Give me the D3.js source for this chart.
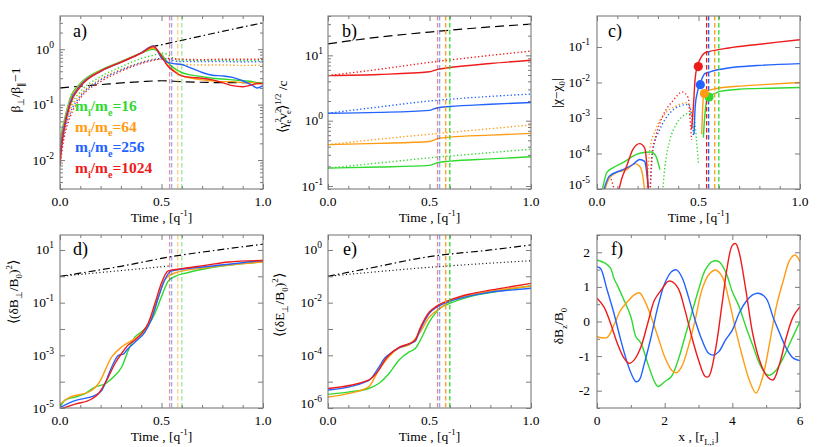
<!DOCTYPE html>
<html><head><meta charset="utf-8">
<script src="https://cdn.jsdelivr.net/npm/d3@7"></script>
<style>
body{margin:0;background:#fff}
svg{display:block}
</style>
</head><body>
<svg id="chart" width="830" height="447" font-family="Liberation Serif"></svg>
<script>
// ---------------- DATA ----------------
const massRatios = ["16", "64", "256", "1024"];
const seriesColors = ["#2fd92f", "#ff9c12", "#2262ff", "#ee1b1b"];
const saturationTimes = [0.60, 0.58, 0.55, 0.54];

// Panel a: beta_perp/beta_par - 1
const aTimeSolid = [0,0.01,0.02,0.05,0.1,0.2,0.3,0.4,0.46,0.5,0.53,0.56,0.6,0.65,0.7,0.75,0.8,0.85,0.9,0.95,0.97,1.0];
const aSolid16   = [0.02,0.035,0.05,0.13,0.24,0.42,0.6,0.85,1.0,0.8,0.58,0.46,0.38,0.34,0.32,0.3,0.29,0.28,0.27,0.26,0.25,0.25];
const aSolid64   = [0.015,0.03,0.045,0.12,0.23,0.41,0.59,0.86,1.05,0.75,0.52,0.42,0.33,0.3,0.28,0.27,0.26,0.26,0.25,0.25,0.24,0.24];
const aSolid256  = [0.012,0.025,0.04,0.11,0.22,0.4,0.58,0.86,1.15,0.7,0.58,0.55,0.53,0.45,0.38,0.34,0.33,0.31,0.27,0.22,0.2,0.22];
const aSolid1024 = [0.008,0.02,0.035,0.1,0.21,0.4,0.58,0.85,1.12,0.75,0.5,0.4,0.33,0.31,0.3,0.28,0.25,0.22,0.21,0.23,0.24,0.24];
const aTimeDotted = [0,0.02,0.05,0.1,0.2,0.3,0.4,0.46,0.5,0.53,0.56,0.6,0.7,0.8,0.9,1.0];
const aDotted16   = [0.02,0.04,0.09,0.17,0.32,0.48,0.68,0.78,0.85,0.8,0.68,0.64,0.63,0.63,0.62,0.64];
const aDotted64   = [0.015,0.035,0.08,0.15,0.29,0.43,0.58,0.66,0.66,0.6,0.55,0.53,0.52,0.52,0.51,0.52];
const aDotted256  = [0.012,0.03,0.07,0.14,0.28,0.42,0.57,0.65,0.68,0.66,0.62,0.6,0.6,0.6,0.59,0.6];
const aDotted1024 = [0.008,0.025,0.06,0.13,0.26,0.4,0.55,0.63,0.67,0.68,0.67,0.66,0.65,0.66,0.66,0.66];
const aDashedTime = [0,0.2,0.4,0.5,0.6,0.8,1.0];
const aDashed     = [0.2,0.23,0.26,0.27,0.26,0.25,0.25];
const aDashDotTime = [0.45,0.6,0.8,1.0];
const aDashDot     = [1.1,1.45,2.1,3.0];

// Panel b: <gamma^2 v^2>^1/2 / c
const bTimeSolid = [0,0.25,0.5,0.54,0.6,0.8,1.0];
const bSolid16   = [0.188,0.195,0.207,0.228,0.24,0.26,0.28];
const bSolid64   = [0.43,0.45,0.48,0.53,0.56,0.6,0.64];
const bSolid256  = [1.3,1.34,1.44,1.58,1.65,1.78,1.9];
const bSolid1024 = [4.9,5.1,5.6,6.1,6.5,7.5,8.4];
const bTimeDotted = [0,0.25,0.5,0.75,1.0];
const bDotted16   = [0.188,0.225,0.27,0.315,0.365];
const bDotted64   = [0.43,0.52,0.62,0.73,0.86];
const bDotted256  = [1.3,1.62,2.0,2.3,2.55];
const bDotted1024 = [4.9,6.1,7.8,9.6,11.6];
const bDashed     = [15,19,22.7,26.5,30];

// Panel c: |chi - chi0|   ([time, value] pairs)
const cEarly16   = [[0.023,8e-6],[0.03,1.2e-5],[0.048,2.9e-5],[0.08,4e-5],[0.128,5.5e-5],[0.194,9.4e-5],[0.24,1.08e-4],[0.268,1.1e-4],[0.29,8.4e-5],[0.31,3.5e-5]];
const cEarly64   = [[0.035,8e-6],[0.06,2e-5],[0.097,2.9e-5],[0.146,3.5e-5],[0.187,5.2e-5],[0.21,4.4e-5],[0.228,1.9e-5],[0.235,8e-6]];
const cEarly256  = [[0.03,8e-6],[0.045,1.5e-5],[0.06,2.3e-5],[0.128,3.5e-5],[0.177,4.9e-5],[0.21,6.8e-5],[0.235,6e-5],[0.243,3.5e-5],[0.253,1e-5],[0.256,7e-6]];
const cEarly1024 = [[0.105,8e-6],[0.12,1.8e-5],[0.146,4.4e-5],[0.177,1.3e-4],[0.21,1.9e-4],[0.235,1.45e-4],[0.246,4.4e-5],[0.253,1e-5],[0.256,7e-6]];
const cNeg16   = [[0.322,7e-6],[0.335,4.4e-5],[0.36,2.5e-4],[0.39,6.6e-4],[0.42,1.1e-3],[0.455,1.35e-3],[0.48,9e-4],[0.49,2.4e-4],[0.5,4.9e-5]];
const cNeg64   = [[0.245,7e-6],[0.26,1.3e-4],[0.29,4.8e-4],[0.34,1.4e-3],[0.39,2.2e-3],[0.44,2.7e-3],[0.455,2.2e-3],[0.466,1.1e-3]];
const cNeg256  = [[0.26,7e-6],[0.276,1.3e-4],[0.31,4.8e-4],[0.36,1.4e-3],[0.41,2.2e-3],[0.45,2.4e-3],[0.466,1.26e-3],[0.475,3.1e-4]];
const cNeg1024 = [[0.262,7e-6],[0.27,8.4e-5],[0.29,3.1e-4],[0.323,1.1e-3],[0.373,3e-3],[0.42,5.4e-3],[0.45,3.7e-3],[0.455,1.7e-3],[0.466,2.4e-4]];
const cNegEarly1024 = [[0.07,1.9e-5],[0.08,1.2e-5],[0.09,7e-6]];
const cLate16   = [[0.524,2.8e-4],[0.53,1e-3],[0.538,2.7e-3],[0.546,4.1e-3],[0.573,4.7e-3],[0.607,5.6e-3],[0.705,6.5e-3],[0.85,6.9e-3],[1.0,7.2e-3]];
const cLate64   = [[0.516,3.5e-4],[0.521,2.2e-3],[0.527,5.2e-3],[0.54,5.7e-3],[0.573,6.5e-3],[0.688,7.8e-3],[0.82,8.7e-3],[1.0,0.01]];
const cLate256  = [[0.478,3.5e-4],[0.484,2.2e-3],[0.494,5.2e-3],[0.507,9e-3],[0.531,0.0177],[0.557,0.02],[0.655,0.026],[0.787,0.03],[1.0,0.034]];
const cLate1024 = [[0.466,4.8e-4],[0.475,2.2e-3],[0.483,0.012],[0.494,0.029],[0.507,0.044],[0.531,0.068],[0.555,0.075],[0.65,0.094],[0.78,0.116],[0.88,0.135],[1.0,0.16]];
const cMarkerTime  = [0.552,0.529,0.509,0.499];
const cMarkerValue = [0.0039,0.0049,0.0087,0.028];

// Panel d: <(dB_perp/B0)^2>
const dTime16 = [0,0.025,0.074,0.123,0.172,0.222,0.263,0.304,0.337,0.37,0.402,0.435,0.468,0.5,0.533,0.567,0.632,0.796,1.0];
const dVal16  = [1.05e-5,2e-5,2.6e-5,3.5e-5,6.2e-5,8.3e-5,1.5e-4,3.6e-4,1.6e-3,5e-3,7.8e-3,0.014,0.04,0.17,0.66,1.0,1.4,2.45,3.5];
const dTime64 = [0,0.033,0.156,0.189,0.255,0.304,0.37,0.419,0.452,0.484,0.517,0.567,0.714,1.0];
const dVal64  = [1.4e-5,2.2e-5,4.6e-5,8.3e-5,8.7e-4,2.1e-3,4.4e-3,9.1e-3,0.03,0.17,0.76,1.35,2.1,3.5];
const dTime256 = [0,0.074,0.172,0.205,0.255,0.288,0.312,0.329,0.37,0.419,0.452,0.484,0.517,0.55,0.714,1.0];
const dVal256  = [1.05e-5,1.9e-5,3e-5,4.6e-5,3.6e-4,1e-3,1.1e-3,1.6e-3,3.2e-3,7.8e-3,0.025,0.15,0.76,1.6,2.3,4.0];
const dTime1024 = [0,0.074,0.156,0.189,0.238,0.271,0.304,0.337,0.37,0.402,0.435,0.468,0.5,0.533,0.6,0.714,0.83,1.0];
const dVal1024  = [9.1e-6,1.4e-5,2.2e-5,3.5e-5,1.5e-4,4.9e-4,1.2e-3,2.5e-3,3.8e-3,6.8e-3,0.017,0.095,0.56,1.6,1.95,2.6,3.5,4.0];
const dDashDotTime = [0,0.3,0.55,0.8,1.0];
const dDashDot     = [1.0,2.4,5.6,10.5,16.6];
const dDottedTime  = [0,0.55];
const dDotted      = [1.0,2.5];

// Panel e: <(dE_perp/B0)^2>
const eTime16 = [0,0.1,0.2,0.25,0.3,0.35,0.4,0.43,0.45,0.5,0.55,0.6,0.7,0.8,1.0];
const eVal16  = [3.3e-6,4e-6,5.5e-6,8.5e-6,2e-5,6.6e-5,1.35e-4,1.8e-4,3.2e-4,1.9e-3,6e-3,9.3e-3,0.017,0.024,0.044];
const eTime64 = [0,0.1,0.2,0.25,0.3,0.35,0.4,0.45,0.5,0.55,0.6,0.8,1.0];
const eVal64  = [2.6e-6,3.5e-6,6.3e-6,2.75e-5,8.9e-5,1.9e-4,2.5e-4,6.8e-4,2.9e-3,6e-3,0.0112,0.027,0.042];
const eTime256 = [0,0.2,0.25,0.28,0.3,0.35,0.4,0.43,0.45,0.5,0.53,0.6,0.7,0.8,0.9,1.0];
const eVal256  = [4.8e-6,1.1e-5,3.5e-5,7.9e-5,1.07e-4,1.9e-4,2.7e-4,3.5e-4,7.9e-4,4e-3,6.3e-3,0.0112,0.018,0.025,0.03,0.035];
const eTime1024 = [0,0.2,0.25,0.28,0.3,0.35,0.4,0.43,0.45,0.5,0.53,0.6,0.7,0.8,0.9,1.0];
const eVal1024  = [5.5e-6,1.15e-5,2.75e-5,6.6e-5,1.0e-4,2.0e-4,2.8e-4,3.8e-4,9.1e-4,4.5e-3,6.9e-3,0.0126,0.0214,0.03,0.04,0.054];
const eDashDotTime = [0,0.2,0.5,0.8,1.0];
const eDashDot     = [0.1,0.2,0.56,1.0,1.55];
const eDottedTime  = [0,0.5,1.0];
const eDotted      = [0.1,0.22,0.39];

// Panel f: dBz/B0 vs x  ([x, value] pairs)
const f16 = [[0,1.78],[0.25,1.68],[0.4,1.54],[0.5,1.25],[0.6,1.05],[0.75,0.72],[1.0,0.14],[1.15,-0.44],[1.3,-0.63],[1.5,-1.21],[1.7,-1.74],[1.8,-1.88],[2.0,-1.74],[2.2,-1.59],[2.4,-1.11],[2.6,-0.44],[2.8,0.24],[3.0,0.91],[3.2,1.49],[3.4,1.73],[3.6,1.73],[3.8,1.44],[4.0,0.86],[4.2,0.43],[4.4,-0.15],[4.6,-0.68],[4.8,-1.21],[5.0,-1.52],[5.1,-1.55],[5.3,-1.4],[5.5,-1.06],[5.7,-0.63],[6.0,0.0]];
const f64 = [[0,-0.44],[0.3,-0.46],[0.5,-0.1],[0.7,0.33],[0.9,0.57],[1.1,0.77],[1.25,0.83],[1.4,0.62],[1.6,0.14],[1.8,-0.44],[2.0,-1.02],[2.2,-1.4],[2.35,-1.48],[2.5,-1.31],[2.7,-0.73],[2.9,0.04],[3.1,0.91],[3.3,1.35],[3.5,1.49],[3.7,1.3],[3.9,0.62],[4.1,-0.25],[4.3,-1.02],[4.5,-1.69],[4.7,-2.07],[4.9,-1.59],[5.1,-0.63],[5.3,0.43],[5.5,1.16],[5.7,1.78],[5.85,1.92],[6.0,1.73]];
const f256 = [[0,1.58],[0.1,1.54],[0.3,0.91],[0.5,0.24],[0.7,-0.53],[0.9,-1.21],[1.05,-1.59],[1.15,-1.74],[1.25,-1.69],[1.4,-1.21],[1.6,-0.44],[1.8,0.43],[2.0,1.1],[2.2,1.44],[2.35,1.49],[2.5,1.3],[2.7,0.72],[2.9,0.04],[3.1,-0.53],[3.3,-0.92],[3.45,-0.97],[3.6,-0.87],[3.8,-0.53],[4.0,-0.25],[4.2,0.24],[4.4,0.57],[4.6,0.77],[4.8,0.81],[5.0,0.67],[5.2,0.14],[5.4,-0.34],[5.6,-0.78],[5.8,-1.06],[6.0,-1.13]];
const f1024 = [[0,0.67],[0.2,0.43],[0.4,-0.05],[0.6,-0.63],[0.8,-1.06],[0.95,-1.21],[1.1,-1.11],[1.3,-0.73],[1.5,-0.05],[1.7,0.62],[1.9,0.91],[2.1,1.16],[2.2,1.16],[2.4,0.96],[2.6,0.33],[2.8,-0.44],[3.0,-1.11],[3.2,-1.59],[3.3,-1.59],[3.5,-0.82],[3.7,0.53],[3.85,1.58],[4.0,2.2],[4.1,2.25],[4.2,2.0],[4.4,0.91],[4.6,-0.34],[4.8,-1.11],[5.0,-1.55],[5.2,-1.69],[5.4,-1.21],[5.6,-0.44],[5.8,0.14],[6.0,0.43]];

// Tick values
const timeMajor = [0, 0.5, 1.0];
const timeMinor = [0.1,0.2,0.3,0.4,0.6,0.7,0.8,0.9];
const fxMajor = [0,2,4,6];
const fxMinor = [1,3,5];
const fyMajor = [-2,-1,0,1,2];
const fyMinor = [-2.5,-1.5,-0.5,0.5,1.5,2.5];

// ---------------- DRAWING ----------------
const svg = d3.select("#chart");
const FRAME = "#7b7b7b";
let clipCount = 0;
const zip = (t, v) => t.map((d, i) => [d, v[i]]);
const logMinors = (lo, hi) => {
  const out = [];
  for (let e = Math.floor(Math.log10(lo)); e <= Math.ceil(Math.log10(hi)); e++)
    for (let k = 2; k <= 9; k++) { const v = k * Math.pow(10, e); if (v >= lo && v <= hi) out.push(v); }
  return out;
};
const decades = (e0, e1) => d3.range(e0, e1 + 1).map(e => Math.pow(10, e));

function txt(parent) {
  return parent.append("text").attr("font-family", "Liberation Serif").attr("fill", "#000");
}

function rich(sel, segs, fs) {
  let cur = 0;
  segs.forEach(s => {
    const target = s.s === "sup" ? -fs * 0.42 : s.s === "sub" ? fs * 0.3 : 0;
    const ts = sel.append("tspan").attr("dy", (target - cur).toFixed(2)).text(s.t);
    if (s.s) ts.attr("font-size", (fs * 0.66).toFixed(1));
    if (s.dx) ts.attr("dx", s.dx);
    cur = target;
  });
}

function makePanel(box, xScale, yScale) {
  const [x0, y0, x1, y1] = box;
  const w = x1 - x0, h = y1 - y0;
  const g = svg.append("g").attr("transform", `translate(${x0},${y0})`);
  const x = xScale.range([0, w]);
  const y = yScale.range([h, 0]);
  const id = "clip" + (clipCount++);
  g.append("clipPath").attr("id", id).append("rect").attr("width", w).attr("height", h);
  const plot = g.append("g").attr("clip-path", `url(#${id})`);
  return { g, plot, x, y, w, h };
}

function tickAxis(g, axisFn, scale, vals, size, transform) {
  const a = axisFn(scale).tickValues(vals).tickSizeInner(-size).tickSizeOuter(0).tickFormat("");
  const ag = g.append("g").call(a);
  if (transform) ag.attr("transform", transform);
  ag.select(".domain").remove();
  ag.selectAll(".tick line").attr("stroke", FRAME).attr("stroke-width", 1);
  ag.selectAll("text").remove();
}

function frame(p, o) {
  const { g, x, y, w, h } = p;
  tickAxis(g, d3.axisBottom, x, o.xMaj, 5, `translate(0,${h})`);
  tickAxis(g, d3.axisBottom, x, o.xMin, 3, `translate(0,${h})`);
  tickAxis(g, d3.axisTop, x, o.xMaj, 5);
  tickAxis(g, d3.axisTop, x, o.xMin, 3);
  tickAxis(g, d3.axisLeft, y, o.yMaj, 5);
  tickAxis(g, d3.axisRight, y, o.yMaj, 5, `translate(${w},0)`);
  if (o.yMin) {
    tickAxis(g, d3.axisLeft, y, o.yMin, 3);
    tickAxis(g, d3.axisRight, y, o.yMin, 3, `translate(${w},0)`);
  }
  g.append("rect").attr("width", w).attr("height", h).attr("fill", "none")
    .attr("stroke", FRAME).attr("stroke-width", 1.1);
  o.xMaj.forEach(v => {
    txt(g).attr("x", x(v)).attr("y", h + 17).attr("text-anchor", "middle")
      .attr("font-size", 13.5).text(o.xFmt(v));
  });
  o.yLab.forEach(v => {
    const t = txt(g).attr("x", -o.yPad).attr("y", y(v) + 4.5 + (o.yNudge ? o.yNudge(v) : 0))
      .attr("text-anchor", "end").attr("font-size", 13.5);
    if (o.log) {
      const e = Math.round(Math.log10(v));
      t.append("tspan").text("10");
      t.append("tspan").attr("dy", -6).attr("font-size", 9.5).text(String(e));
    } else {
      t.text(String(v));
    }
  });
  txt(g).attr("x", o.letterX).attr("y", o.letterY).attr("font-size", 18).text(o.letter);
  const xt = txt(g).attr("x", w / 2).attr("y", h + 33).attr("text-anchor", "middle").attr("font-size", 13.5);
  rich(xt, o.xTitle, 13.5);
  const yt = txt(g).attr("transform", `translate(${o.yTitleX},${o.yTitleY}) rotate(-90)`)
    .attr("text-anchor", "middle").attr("font-size", 13.5);
  rich(yt, o.yTitle, 13.5);
}

function drawLine(p, data, color, style, width) {
  const line = d3.line().x(d => p.x(d[0])).y(d => p.y(d[1])).curve(style.curve || d3.curveMonotoneX);
  const path = p.plot.append("path").datum(data).attr("d", line).attr("fill", "none")
    .attr("stroke", color).attr("stroke-width", width || 1.4);
  if (style.dash) path.attr("stroke-dasharray", style.dash);
  return path;
}
const SOLID = {}, DOT = { dash: "1.3,2.3" }, BLACKDOT = { dash: "1,2.6" },
      DASH = { dash: "9,5" }, DASHDOT = { dash: "7,3,1.5,3" };

function vlines(p, ops) {
  saturationTimes.forEach((t, i) => {
    p.plot.append("line").attr("x1", p.x(t)).attr("x2", p.x(t)).attr("y1", 0).attr("y2", p.h)
      .attr("stroke", seriesColors[i]).attr("stroke-width", 1.3).attr("stroke-dasharray", "4.5,2.5")
      .attr("stroke-opacity", ops[i]);
  });
}

const timeTitle = [{ t: "Time , [q" }, { t: "-1", s: "sup" }, { t: "]" }];
const fmt1 = d3.format(".1f");
const timeScale = () => d3.scaleLinear().domain([0, 1]);

// ---- Panel a ----
(function () {
  const p = makePanel([60, 16, 263, 189], timeScale(), d3.scaleLog().domain([0.003, 3.98]));
  const sol = [aSolid16, aSolid64, aSolid256, aSolid1024];
  const dot = [aDotted16, aDotted64, aDotted256, aDotted1024];
  drawLine(p, zip(aDashedTime, aDashed), "#000", DASH, 1.2);
  drawLine(p, zip(aDashDotTime, aDashDot), "#000", DASHDOT, 1.2);
  dot.forEach((v, i) => drawLine(p, zip(aTimeDotted, v), seriesColors[i], DOT));
  sol.forEach((v, i) => drawLine(p, zip(aTimeSolid, v), seriesColors[i], SOLID));
  vlines(p, [0.5, 0.5, 0.5, 0.5]);
  frame(p, {
    xMaj: timeMajor, xMin: timeMinor, xFmt: fmt1,
    yMaj: decades(-2, 0), yMin: logMinors(0.003, 3.98), yLab: decades(-2, 0), log: true, yPad: 6,
    letter: "a)", letterX: 13, letterY: 21,
    xTitle: timeTitle,
    yTitle: [{ t: "β" }, { t: "⊥", s: "sub" }, { t: "/β" }, { t: "∥", s: "sub" }, { t: "−1" }],
    yTitleX: -40, yTitleY: 74
  });
  massRatios.forEach((m, i) => {
    const t = txt(p.g).attr("x", 15).attr("y", 95 + i * 20.7).attr("font-size", 15.5)
      .attr("font-weight", "bold").attr("fill", seriesColors[i]);
    rich(t, [{ t: "m" }, { t: "i", s: "sub" }, { t: "/m" }, { t: "e", s: "sub" }, { t: "=" + m }], 15.5);
  });
})();

// ---- Panel b ----
(function () {
  const p = makePanel([328, 16, 531, 189], timeScale(), d3.scaleLog().domain([0.09, 40]));
  const sol = [bSolid16, bSolid64, bSolid256, bSolid1024];
  const dot = [bDotted16, bDotted64, bDotted256, bDotted1024];
  drawLine(p, zip(bTimeDotted, bDashed), "#000", DASH, 1.2);
  dot.forEach((v, i) => drawLine(p, zip(bTimeDotted, v), seriesColors[i], DOT));
  sol.forEach((v, i) => drawLine(p, zip(bTimeSolid, v), seriesColors[i], SOLID));
  vlines(p, [1, 1, 0.55, 0.55]);
  frame(p, {
    xMaj: timeMajor, xMin: timeMinor, xFmt: fmt1,
    yMaj: decades(-1, 1), yMin: logMinors(0.09, 40), yLab: decades(-1, 1), log: true, yPad: 5,
    letter: "b)", letterX: 14, letterY: 21,
    xTitle: timeTitle,
    yTitle: [{ t: "⟨γ" }, { t: "2", s: "sup" }, { t: "e", s: "sub", dx: -5.5 }, { t: "v" },
             { t: "2", s: "sup" }, { t: "e", s: "sub", dx: -5.5 }, { t: "⟩" }, { t: "1/2", s: "sup" }, { t: " /c" }],
    yTitleX: -41, yTitleY: 91
  });
})();

// ---- Panel c ----
(function () {
  const p = makePanel([597, 16, 800, 189], timeScale(), d3.scaleLog().domain([1e-5, 0.746]));
  const early = [cEarly16, cEarly64, cEarly256, cEarly1024];
  const neg = [cNeg16, cNeg64, cNeg256, cNeg1024];
  const late = [cLate16, cLate64, cLate256, cLate1024];
  drawLine(p, cNegEarly1024, seriesColors[3], DOT);
  neg.forEach((d, i) => drawLine(p, d, seriesColors[i], DOT));
  early.forEach((d, i) => drawLine(p, d, seriesColors[i], SOLID));
  late.forEach((d, i) => drawLine(p, d, seriesColors[i], SOLID));
  vlines(p, [1, 1, 1, 1]);
  cMarkerTime.forEach((t, i) => {
    p.g.append("circle").attr("cx", p.x(t)).attr("cy", p.y(cMarkerValue[i])).attr("r", 4.6)
      .attr("fill", seriesColors[i]);
  });
  frame(p, {
    xMaj: timeMajor, xMin: timeMinor, xFmt: fmt1,
    yMaj: decades(-5, -1), yLab: decades(-5, -1), log: true, yPad: 7,
    yNudge: v => (v < 2e-5 ? -5 : 0),
    letter: "c)", letterX: 11, letterY: 21,
    xTitle: timeTitle,
    yTitle: [{ t: "|χ−χ" }, { t: "0", s: "sub" }, { t: "|" }],
    yTitleX: -36, yTitleY: 77
  });
})();

// ---- Panel d ----
(function () {
  const p = makePanel([60, 235, 263, 408], timeScale(), d3.scaleLog().domain([1e-5, 37]));
  const ts = [dTime16, dTime64, dTime256, dTime1024];
  const vs = [dVal16, dVal64, dVal256, dVal1024];
  drawLine(p, zip(dDashDotTime, dDashDot), "#000", DASHDOT, 1.2);
  drawLine(p, zip(dDottedTime, dDotted), "#000", BLACKDOT, 1.2);
  ts.forEach((t, i) => drawLine(p, zip(t, vs[i]), seriesColors[i], SOLID));
  vlines(p, [0.5, 0.5, 0.5, 0.5]);
  frame(p, {
    xMaj: timeMajor, xMin: timeMinor, xFmt: fmt1,
    yMaj: decades(-5, 1), yLab: [1e-5, 1e-3, 1e-1, 10], log: true, yPad: 6,
    letter: "d)", letterX: 13, letterY: 20,
    xTitle: timeTitle,
    yTitle: [{ t: "⟨(δB" }, { t: "⊥", s: "sub" }, { t: "/B" }, { t: "0", s: "sub" }, { t: ")" }, { t: "2", s: "sup" }, { t: "⟩" }],
    yTitleX: -42, yTitleY: 57
  });
})();

// ---- Panel e ----
(function () {
  const p = makePanel([328, 235, 531, 408], timeScale(), d3.scaleLog().domain([1e-6, 3.7]));
  const ts = [eTime16, eTime64, eTime256, eTime1024];
  const vs = [eVal16, eVal64, eVal256, eVal1024];
  drawLine(p, zip(eDashDotTime, eDashDot), "#000", DASHDOT, 1.2);
  drawLine(p, zip(eDottedTime, eDotted), "#000", BLACKDOT, 1.2);
  ts.forEach((t, i) => drawLine(p, zip(t, vs[i]), seriesColors[i], SOLID));
  vlines(p, [1, 1, 0.55, 0.55]);
  frame(p, {
    xMaj: timeMajor, xMin: timeMinor, xFmt: fmt1,
    yMaj: decades(-6, 0), yLab: [1e-6, 1e-4, 1e-2, 1], log: true, yPad: 6,
    yNudge: v => (v < 2e-6 ? -5 : 0),
    letter: "e)", letterX: 15, letterY: 20,
    xTitle: timeTitle,
    yTitle: [{ t: "⟨(δE" }, { t: "⊥", s: "sub" }, { t: "/B" }, { t: "0", s: "sub" }, { t: ")" }, { t: "2", s: "sup" }, { t: "⟩" }],
    yTitleX: -44, yTitleY: 70
  });
})();

// ---- Panel f ----
(function () {
  const p = makePanel([597, 235, 800, 408], d3.scaleLinear().domain([0, 6]), d3.scaleLinear().domain([-2.5, 2.5]));
  const fs = [f16, f64, f256, f1024];
  fs.forEach((d, i) => drawLine(p, d, seriesColors[i], { curve: d3.curveCatmullRom.alpha(0.5) }));
  frame(p, {
    xMaj: fxMajor, xMin: fxMinor, xFmt: d3.format("d"),
    yMaj: fyMajor, yMin: fyMinor, yLab: fyMajor, log: false, yPad: 7,
    letter: "f)", letterX: 14, letterY: 20,
    xTitle: [{ t: "x , [r" }, { t: "L,i", s: "sub" }, { t: "]" }],
    yTitle: [{ t: "δB" }, { t: "z", s: "sub" }, { t: "/B" }, { t: "0", s: "sub" }],
    yTitleX: -34, yTitleY: 91
  });
})();
</script>
</body></html>
